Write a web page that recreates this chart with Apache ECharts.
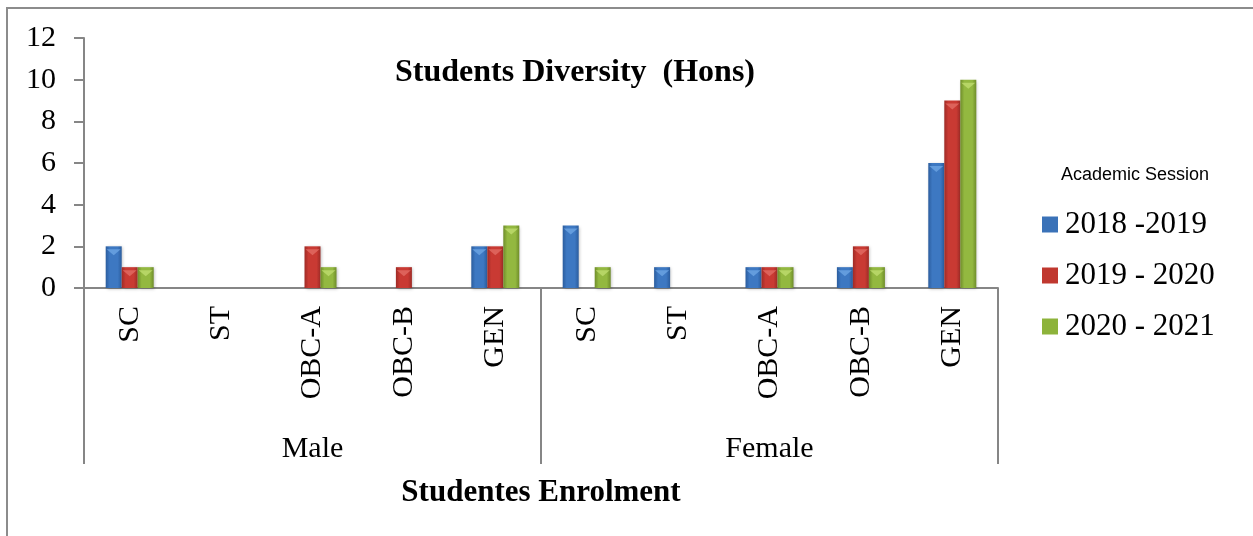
<!DOCTYPE html>
<html>
<head>
<meta charset="utf-8">
<script src="https://cdn.jsdelivr.net/npm/echarts@6/dist/echarts.min.js"></script>
<style>
html,body{margin:0;padding:0;overflow:hidden;background:#fff;}
#frame{position:absolute;left:6px;top:7px;width:1400px;height:700px;border-top:2px solid #8c8c8c;border-left:2px solid #8c8c8c;}
#chart{position:absolute;left:0;top:0;width:1253px;height:536px;}
</style>
</head>
<body>
<div id="frame"></div>
<div id="chart"></div>
<script>
const categories = ['SC','ST','OBC-A','OBC-B','GEN','SC','ST','OBC-A','OBC-B','GEN'];
const groups = ['Male','Female'];
const seriesNames = ['2018 -2019','2019 - 2020','2020 - 2021'];
const s2018 = [2,0,0,0,2,3,1,1,1,6];
const s2019 = [1,0,2,1,2,0,0,1,2,9];
const s2020 = [1,0,1,0,3,1,0,1,1,10];
const yTicks = [0,2,4,6,8,10,12];

const serif = '"Liberation Serif","Times New Roman",serif';
const axisGray = '#868686';

function grad(edge, mid){
  return new echarts.graphic.LinearGradient(0,0,1,0,[
    {offset:0,color:edge},{offset:0.25,color:mid},{offset:0.75,color:mid},{offset:1,color:edge}
  ]);
}
const styles = [
  grad('#2b5d9e','#3d78c2'),
  grad('#9e2b26','#c93a33'),
  grad('#6f8d2a','#93b840')
];
const capColors = ['#6aa2e2','#e06a62','#bcd96c'];
const legendColors = ['#3a72b8','#c0382f','#8db33b'];

const chart = echarts.init(document.getElementById('chart'));
const data = [s2018, s2019, s2020];
const barSeries = data.map((d,i)=>({
  name:seriesNames[i], type:'bar', xAxisIndex:0, data:d,
  barWidth:16, barGap:'0%',
  itemStyle:{color:styles[i], shadowBlur:3, shadowColor:'rgba(0,0,0,0.25)', shadowOffsetX:1, shadowOffsetY:1}
}));
const capSeries = data.map((d,i)=>({
  name:'cap'+i, type:'pictorialBar', xAxisIndex:0, data:d.map(v=>v>0?v:'-'),
  barWidth:16, barGap:'0%', symbol:'path://M0,0 L16,0 L8,6 Z', symbolSize:[14,6],
  symbolPosition:'end', symbolOffset:[0,'50%'], z:5,
  itemStyle:{color:capColors[i], opacity:0.85}, silent:true
}));
chart.setOption({
  animation:false,
  title:[
    {text:'Students Diversity  (Hons)', left:575, top:57, textAlign:'center', padding:0,
     textStyle:{fontFamily:serif,fontWeight:'bold',fontSize:32,color:'#000'}},
    {text:'Academic Session', left:1135, top:166, textAlign:'center', padding:0,
     textStyle:{fontFamily:'"Liberation Sans",Arial,sans-serif',fontWeight:'normal',fontSize:18,color:'#000'}}
  ],
  legend:{
    orient:'vertical', left:1042, top:209, itemWidth:16, itemHeight:16, itemGap:20, padding:0,
    icon:'rect',
    data: seriesNames.map((n,i)=>({name:n, itemStyle:{color:legendColors[i]}})),
    textStyle:{fontFamily:serif,fontSize:31,color:'#000',padding:[0,0,0,2]}
  },
  grid:{left:84,right:255,top:38,bottom:248},
  xAxis:[
    {type:'category', data:categories, position:'bottom',
     axisLine:{lineStyle:{color:axisGray,width:2}},
     axisTick:{show:false},
     axisLabel:{rotate:90, interval:0, margin:18, fontFamily:serif, fontSize:30, color:'#000'}},
    {type:'category', data:groups, position:'bottom',
     axisLine:{show:false},
     axisTick:{show:true, interval:0, length:176, lineStyle:{color:axisGray,width:2}},
     axisLabel:{interval:0, margin:146, fontFamily:serif, fontSize:30, color:'#000'},
     name:'Studentes Enrolment', nameLocation:'middle', nameGap:189,
     nameTextStyle:{fontFamily:serif,fontWeight:'bold',fontSize:31,color:'#000'}}
  ],
  yAxis:{type:'value', min:yTicks[0], max:yTicks[yTicks.length-1], interval:2,
    splitLine:{show:false},
    axisLine:{show:true,lineStyle:{color:axisGray,width:2}},
    axisTick:{show:true,length:10,lineStyle:{color:axisGray,width:2}},
    axisLabel:{margin:28,fontFamily:serif,fontSize:30,color:'#000'}},
  series: barSeries.concat(capSeries)
});
</script>
</body>
</html>
